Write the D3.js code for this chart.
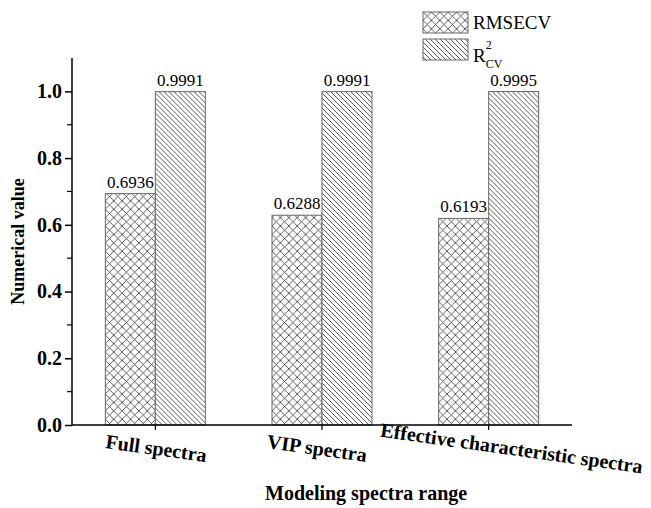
<!DOCTYPE html>
<html>
<head>
<meta charset="utf-8">
<script src="https://cdn.jsdelivr.net/npm/d3@7"></script>
<style>
  body { margin: 0; background: #fff; }
  svg text { font-family: "Liberation Serif", "Times New Roman", serif; }
</style>
</head>
<body>
<script>
// chart data
let categories = ["Full spectra", "VIP spectra", "Effective characteristic spectra"];
let seriesNames = ["RMSECV", "R2CV"];
let rmsecv = [0.6936, 0.6288, 0.6193];
let r2cv = [0.9991, 0.9991, 0.9995];
let yTicks = [0.0, 0.2, 0.4, 0.6, 0.8, 1.0];

let width = 651, height = 508;
let margin = {left: 72, right: 79, top: 58, bottom: 83};

let svg = d3.select("body").append("svg")
    .attr("width", width)
    .attr("height", height);

// hatch patterns
let defs = svg.append("defs");
let cross = defs.append("pattern")
    .attr("id", "cross")
    .attr("patternUnits", "userSpaceOnUse")
    .attr("width", 8.4).attr("height", 8.4);
cross.append("rect").attr("width", 8.4).attr("height", 8.4).attr("fill", "#fff");
cross.append("path")
    .attr("d", "M0,0L8.4,8.4M8.4,0L0,8.4")
    .attr("stroke", "#333").attr("stroke-width", 0.8);

let diag = defs.append("pattern")
    .attr("id", "diag")
    .attr("patternUnits", "userSpaceOnUse")
    .attr("width", 5).attr("height", 5);
diag.append("rect").attr("width", 5).attr("height", 5).attr("fill", "#fff");
diag.append("path")
    .attr("d", "M0,0L5,5M-1,4L1,6M4,-1L6,1")
    .attr("stroke", "#333").attr("stroke-width", 0.8);

let fills = ["url(#cross)", "url(#diag)"];

let g = svg.append("g")
    .attr("transform", "translate(" + margin.left + "," + margin.top + ")");
let w = width - margin.left - margin.right;
let h = height - margin.top - margin.bottom;

let x = d3.scaleBand().domain(categories).range([0, w]).padding(0);
let groupW = x.bandwidth() * 0.6;
let xs = d3.scaleBand().domain(seriesNames).range([0, groupW]).padding(0);
let y = d3.scaleLinear().domain([0, 1.1]).range([h, 0]);

let rows = categories.map(function (c, i) {
    return {cat: c, vals: [rmsecv[i], r2cv[i]]};
});

let groups = g.selectAll(".grp")
    .data(rows)
    .enter().append("g")
    .attr("class", "grp")
    .attr("transform", function (d) {
        return "translate(" + (x(d.cat) + (x.bandwidth() - groupW) / 2) + ",0)";
    });

groups.selectAll("rect")
    .data(function (d) { return d.vals; })
    .enter().append("rect")
    .attr("x", function (d, i) { return xs(seriesNames[i]); })
    .attr("y", function (d) { return y(d); })
    .attr("width", xs.bandwidth())
    .attr("height", function (d) { return h - y(d); })
    .attr("fill", function (d, i) { return fills[i]; })
    .attr("stroke", "#666")
    .attr("stroke-width", 1);

groups.selectAll(".val")
    .data(function (d) { return d.vals; })
    .enter().append("text")
    .attr("class", "val")
    .attr("x", function (d, i) { return xs(seriesNames[i]) + xs.bandwidth() / 2; })
    .attr("y", function (d) { return y(d) - 6; })
    .attr("text-anchor", "middle")
    .style("font-size", "17px")
    .text(function (d) { return d.toFixed(4); });

// y axis
let yAxis = g.append("g")
    .call(d3.axisLeft(y).tickValues(yTicks).tickFormat(d3.format(".1f")).tickSize(7).tickPadding(3));
yAxis.select(".domain").attr("d", "M0," + h + "V0").attr("stroke-width", 1.5);
yAxis.selectAll(".tick line").attr("stroke-width", 1.5);
yAxis.selectAll("text")
    .style("font-size", "20px").style("font-weight", "bold")
    .style("font-family", "'Liberation Serif', serif").attr("fill", "#000");
// minor ticks
g.append("g").selectAll("line")
    .data(d3.range(0.1, 1.0, 0.2))
    .enter().append("line")
    .attr("x1", -5).attr("x2", 0)
    .attr("y1", function (d) { return y(d); })
    .attr("y2", function (d) { return y(d); })
    .attr("stroke", "#000").attr("stroke-width", 1.2);

// x axis
let xAxis = g.append("g")
    .attr("transform", "translate(0," + h + ")")
    .call(d3.axisBottom(x).tickSize(5).tickFormat(""));
xAxis.select(".domain").attr("d", "M0,0H" + w).attr("stroke-width", 1.5);
xAxis.selectAll(".tick line").attr("stroke-width", 1.2);

g.selectAll(".xlab")
    .data(categories)
    .enter().append("text")
    .attr("class", "xlab")
    .attr("transform", function (d, i) {
        let cx = x(d) + x.bandwidth() / 2 + (i === 2 ? 22 : (i === 1 ? -6 : 0));
        return "translate(" + cx + "," + (h + 30) + ") rotate(8)";
    })
    .attr("text-anchor", "middle")
    .style("font-size", "20px").style("font-weight", "bold")
    .text(function (d) { return d; });

// axis titles
svg.append("text")
    .attr("transform", "translate(24," + (margin.top + h / 2) + ") rotate(-90)")
    .attr("text-anchor", "middle")
    .style("font-size", "18px").style("font-weight", "bold")
    .text("Numerical value");

svg.append("text")
    .attr("x", 265).attr("y", 500)
    .style("font-size", "20px").style("font-weight", "bold")
    .text("Modeling spectra range");

// legend
let legend = svg.append("g").attr("transform", "translate(423,12)");
legend.selectAll("rect")
    .data(seriesNames)
    .enter().append("rect")
    .attr("x", 0)
    .attr("y", function (d, i) { return i * 27; })
    .attr("width", 45).attr("height", 21)
    .attr("fill", function (d, i) { return fills[i]; })
    .attr("stroke", "#666");

legend.append("text")
    .attr("x", 50).attr("y", 17)
    .style("font-size", "19px")
    .text("RMSECV");

let r2 = legend.append("text")
    .attr("x", 50).attr("y", 50)
    .style("font-size", "19px");
r2.append("tspan").text("R");
r2.append("tspan").attr("dy", -13).style("font-size", "12px").text("2");
r2.append("tspan").attr("dx", -6).attr("dy", 19).style("font-size", "12px").text("CV");
</script>
</body>
</html>
